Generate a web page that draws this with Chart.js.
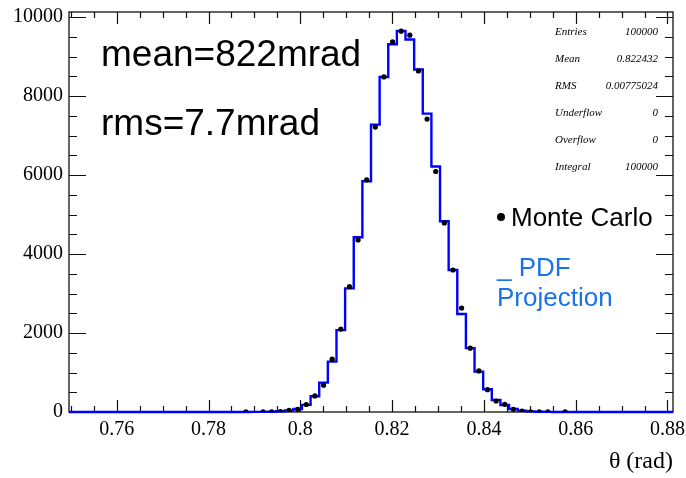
<!DOCTYPE html>
<html>
<head>
<meta charset="utf-8">
<script src="https://cdn.jsdelivr.net/npm/chart.js@4/dist/chart.umd.min.js"></script>
<style>
  html, body { margin: 0; padding: 0; background: #fff; }
  canvas { display: block; }
</style>
</head>
<body>
<canvas id="thetaChart" width="686" height="478"></canvas>
<script>
// ── histogram definition (70 bins over the frame range) ──
const BIN_LO = 0.7496;
const BIN_WIDTH = 0.00188;

// PDF projection, one value per bin
const PDF_COUNTS = [
  0, 0, 0, 0, 0, 0, 0, 0, 0, 0,
  0, 0, 0, 0, 0, 0, 0, 0, 0, 0,
  1, 2, 3, 8, 18, 38, 75, 180, 400, 744,
  1277, 2073, 3130, 4425, 5845, 7277, 8485, 9315, 9652, 9434,
  8672, 7556, 6218, 4830, 3596, 2480, 1617, 1023, 576, 305,
  178, 75, 35, 15, 6, 2, 1, 0, 0, 0,
  0, 0, 0, 0, 0, 0, 0, 0, 0, 0,
];

// Monte Carlo entries, one value per bin (null = empty bin, not drawn)
const MC_COUNTS = [
  null, null, null, null, null, null, null, null, null, null,
  null, null, null, null, null, null, null, null, null, null,
  2, null, 3, 5, 10, 40, 70, 190, 406, 677,
  1337, 2099, 3173, 4357, 5880, 7216, 8485, 9374, 9645, 9543,
  8637, 7419, 6091, 4789, 3596, 2632, 1617, 1040, 566, 279,
  195, 68, 25, 6, 3, 2, null, 1, null, null,
  null, null, null, null, null, null, null, null, null, null,
];

const X_TICKS = [0.76, 0.78, 0.80, 0.82, 0.84, 0.86, 0.88];
const Y_TICKS = [0, 2000, 4000, 6000, 8000, 10000];
const Y_MAX = 10130;

const STAT_NAMES  = ['Entries', 'Mean', 'RMS', 'Underflow', 'Overflow', 'Integral'];
const STAT_VALUES = ['100000', '0.822432', '0.00775024', '0', '0', '100000'];

// ── build datasets ──
const pdfLine = PDF_COUNTS.map((v, i) => ({ x: BIN_LO + i * BIN_WIDTH, y: v }));
pdfLine.push({ x: BIN_LO + PDF_COUNTS.length * BIN_WIDTH, y: PDF_COUNTS[PDF_COUNTS.length - 1] });

const mcPoints = [];
MC_COUNTS.forEach((v, i) => {
  if (v !== null) mcPoints.push({ x: BIN_LO + (i + 0.5) * BIN_WIDTH, y: v });
});

// frame + inward ticks on all four sides, ROOT style
const frameTicks = {
  id: 'frameTicks',
  beforeDatasetsDraw(chart) {
    const { ctx, chartArea: a, scales: { x, y } } = chart;
    ctx.save();
    ctx.strokeStyle = '#111';
    ctx.lineWidth = 1.3;
    ctx.strokeRect(a.left, a.top, a.right - a.left, a.bottom - a.top);

    ctx.lineWidth = 1.2;
    ctx.beginPath();
    const xStep = (X_TICKS[1] - X_TICKS[0]) / 4;
    for (let k = -3; k <= (X_TICKS.length - 1) * 4 + 1; k++) {
      const v = X_TICKS[0] + k * xStep;
      if (v < x.min - 1e-9 || v > x.max + 1e-9) continue;
      const px = Math.round(x.getPixelForValue(v)) + 0.5;
      const len = k % 4 === 0 ? 12 : 6;
      ctx.moveTo(px, a.bottom); ctx.lineTo(px, a.bottom - len);
      ctx.moveTo(px, a.top);    ctx.lineTo(px, a.top + len);
    }
    const yStep = (Y_TICKS[1] - Y_TICKS[0]) / 4;
    for (let k = 0; k <= (Y_TICKS.length - 1) * 4; k++) {
      const v = k * yStep;
      if (v > y.max) continue;
      const py = Math.round(y.getPixelForValue(v)) + 0.5;
      const len = k % 4 === 0 ? 17 : 8;
      ctx.moveTo(a.left, py);  ctx.lineTo(a.left + len, py);
      ctx.moveTo(a.right, py); ctx.lineTo(a.right - len, py);
    }
    ctx.stroke();
    ctx.restore();
  },
  afterDraw(chart) {
    const { ctx } = chart;
    ctx.save();
    ctx.fillStyle = '#000';
    ctx.textAlign = 'left';
    ctx.textBaseline = 'alphabetic';

    // big annotations
    ctx.font = '37px "Liberation Sans", Arial, sans-serif';
    ctx.fillText('mean=822mrad', 101, 66);
    ctx.fillText('rms=7.7mrad', 101, 135);

    // stats box
    ctx.font = 'italic 11px "Liberation Serif", "Times New Roman", serif';
    STAT_NAMES.forEach((name, i) => {
      const by = 35 + i * 27;
      ctx.textAlign = 'left';
      ctx.fillText(name, 555, by);
      ctx.textAlign = 'right';
      ctx.fillText(STAT_VALUES[i], 658, by);
    });

    // legend
    ctx.textAlign = 'left';
    ctx.beginPath();
    ctx.arc(501, 217, 4, 0, Math.PI * 2);
    ctx.fill();
    ctx.font = '26px "Liberation Sans", Arial, sans-serif';
    ctx.fillText('Monte Carlo', 511, 226);
    ctx.fillStyle = '#1a73e8';
    ctx.fillText('_ PDF', 497, 276);
    ctx.fillText('Projection', 497, 306);
    ctx.restore();
  },
};

new Chart(document.getElementById('thetaChart'), {
  type: 'scatter',
  data: {
    datasets: [
      {
        label: 'Monte Carlo',
        data: mcPoints,
        showLine: false,
        pointRadius: 2.6,
        pointBackgroundColor: '#000',
        pointBorderWidth: 0,
        order: 0,
      },
      {
        label: 'PDF Projection',
        type: 'line',
        data: pdfLine,
        stepped: 'before',
        borderColor: '#0000ff',
        borderWidth: 2.4,
        pointRadius: 0,
        fill: false,
        clip: 4,
        order: 1,
      },
    ],
  },
  options: {
    responsive: false,
    animation: false,
    devicePixelRatio: 1,
    layout: { padding: { top: 12, right: 13, left: 0, bottom: 0 } },
    plugins: { legend: { display: false }, tooltip: { enabled: false } },
    scales: {
      x: {
        type: 'linear',
        min: BIN_LO,
        max: BIN_LO + PDF_COUNTS.length * BIN_WIDTH,
        afterBuildTicks: s => { s.ticks = X_TICKS.map(v => ({ value: v })); },
        afterFit: s => { s.height = 66; s.paddingLeft = 0; s.paddingRight = 0; },
        grid: { display: false, drawTicks: false },
        border: { display: false },
        ticks: {
          autoSkip: false,
          maxRotation: 0,
          padding: 6,
          color: '#000',
          font: { family: '"Liberation Serif", "Times New Roman", serif', size: 20 },
          callback: v => String(+v.toFixed(2)),
        },
        title: {
          display: true,
          text: 'θ (rad)',
          align: 'end',
          color: '#000',
          padding: { top: 0, bottom: 2 },
          font: { family: '"Liberation Serif", "Times New Roman", serif', size: 24 },
        },
      },
      y: {
        min: 0,
        max: Y_MAX,
        afterBuildTicks: s => { s.ticks = Y_TICKS.map(v => ({ value: v })); },
        afterFit: s => { s.width = 69; s.paddingTop = 0; s.paddingBottom = 0; },
        grid: { display: false, drawTicks: false },
        border: { display: false },
        ticks: {
          padding: 6,
          color: '#000',
          font: { family: '"Liberation Serif", "Times New Roman", serif', size: 20 },
          callback: v => String(v),
        },
      },
    },
  },
  plugins: [frameTicks],
});
</script>
</body>
</html>
